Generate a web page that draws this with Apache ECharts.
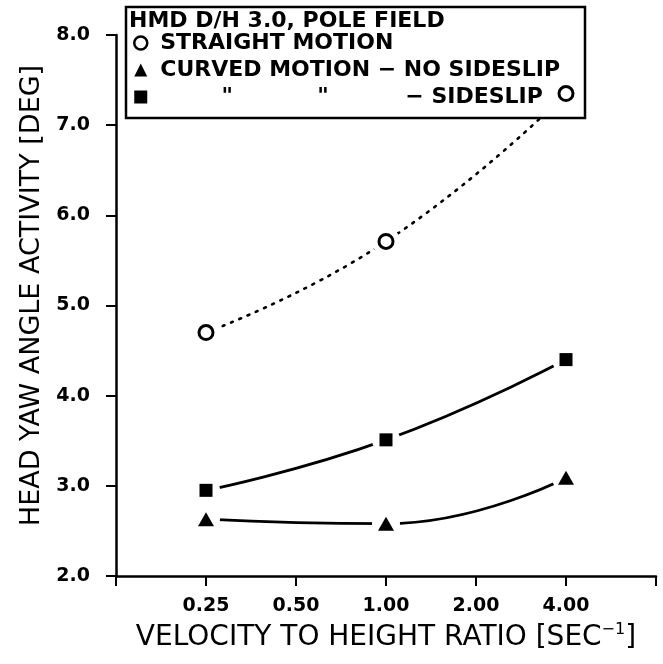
<!DOCTYPE html>
<html>
<head>
<meta charset="utf-8">
<script src="https://cdn.jsdelivr.net/npm/echarts@6/dist/echarts.min.js"></script>
<style>
html,body{margin:0;padding:0;background:#fff;}
#main{width:663px;height:664px;}
</style>
</head>
<body>
<div id="main"></div>
<script>
// velocity to height ratio [sec^-1], plotted on a log2 axis
let xValues = [0.25, 1.00, 4.00];
let xTickLabels = ["0.25", "0.50", "1.00", "2.00", "4.00"];
let straightMotion = [4.70, 5.71, 7.35];
let curvedNoSideslip = [2.63, 2.58, 3.09];
let curvedSideslip = [2.95, 3.51, 4.40];
let seriesNames = [
	"STRAIGHT MOTION",
	"CURVED MOTION \u2212 NO SIDESLIP",
	'        "           "          \u2212 SIDESLIP'
];
let legendTitle = "HMD D/H 3.0, POLE FIELD";

let font = "DejaVu Sans";

function pairs(ys) {
	return xValues.map(function(x, i) {
		return [x, ys[i]];
	});
}

// fitted curve, white discs under the markers leave the gap seen on the plot
function fitLine(id, ys, dotted) {
	return {
		name: id,
		type: "line",
		data: pairs(ys),
		smooth: 0.5,
		z: 1,
		silent: true,
		symbol: "circle",
		symbolSize: 28,
		showSymbol: true,
		itemStyle: { color: "#fff" },
		lineStyle: {
			color: "#000",
			width: dotted ? 2.6 : 2.8,
			type: dotted ? [2, 7] : "solid",
			cap: "round"
		}
	};
}

function markers(name, ys, symbol, size, style) {
	style.opacity = 1;
	return {
		name: name,
		type: "scatter",
		data: pairs(ys),
		symbol: symbol,
		symbolSize: size,
		itemStyle: style,
		z: 5
	};
}

let myChart = echarts.init(document.getElementById("main"), null, { renderer: "canvas" });
let option = {
	animation: false,
	backgroundColor: "#fff",
	grid: { left: 116, right: 7, top: 35, bottom: 88 },
	title: {
		text: legendTitle,
		left: 129,
		top: 10,
		padding: 0,
		z: 6,
		textStyle: { fontFamily: font, fontSize: 22, fontWeight: "bold", color: "#000" }
	},
	legend: {
		data: seriesNames,
		orient: "vertical",
		left: 133,
		top: 32,
		padding: 0,
		itemGap: 5,
		itemWidth: 13,
		itemHeight: 13,
		selectedMode: false,
		z: 6,
		itemStyle: { borderWidth: 2.5, opacity: 1 },
		textStyle: { fontFamily: font, fontSize: 22, fontWeight: "bold", lineHeight: 21, color: "#000", padding: [0, 0, 0, 8] }
	},
	graphic: [{
		type: "rect",
		z: 3,
		shape: { x: 126, y: 7, width: 459, height: 111 },
		style: { fill: "#fff", stroke: "#000", lineWidth: 2.5 }
	}],
	xAxis: {
		type: "log",
		logBase: 2,
		min: 0.125,
		max: 8,
		splitLine: { show: false },
		minorTick: { show: false },
		axisLine: { onZero: false, lineStyle: { color: "#000", width: 2.5 } },
		axisTick: { show: true, length: 10, lineStyle: { color: "#000", width: 2 } },
		axisLabel: {
			color: "#000",
			fontFamily: font,
			fontSize: 19,
			fontWeight: "bold",
			margin: 21,
			formatter: function(v) {
				let s = xTickLabels.find(function(t) {
					return Math.abs(parseFloat(t) - v) < 1e-6;
				});
				return s || "";
			}
		},
		name: "{n|VELOCITY TO HEIGHT RATIO [SEC}{s|\u22121}{n|]}",
		nameLocation: "middle",
		nameGap: 46,
		nameTextStyle: {
			rich: {
				n: { fontFamily: font, fontSize: 28, lineHeight: 32, color: "#000" },
				s: { fontFamily: font, fontSize: 16, lineHeight: 16, verticalAlign: "top", color: "#000" }
			}
		}
	},
	yAxis: {
		type: "value",
		min: 2,
		max: 8,
		interval: 1,
		splitLine: { show: false },
		axisLine: { show: true, onZero: false, lineStyle: { color: "#000", width: 2.5 } },
		axisTick: { show: true, length: 10, lineStyle: { color: "#000", width: 2 } },
		axisLabel: {
			color: "#000",
			fontFamily: font,
			fontSize: 19,
			fontWeight: "bold",
			margin: 26,
			formatter: function(v) {
				return v.toFixed(1);
			}
		},
		name: "HEAD YAW ANGLE ACTIVITY [DEG]",
		nameLocation: "middle",
		nameRotate: 90,
		nameGap: 67,
		nameTextStyle: { fontFamily: font, fontSize: 27, color: "#000", padding: [0, 0, 0, 20] }
	},
	series: [
		fitLine("fit straight", straightMotion, true),
		fitLine("fit no sideslip", curvedNoSideslip, false),
		fitLine("fit sideslip", curvedSideslip, false),
		markers(seriesNames[0], straightMotion, "circle", 14, { color: "#fff", borderColor: "#000", borderWidth: 3 }),
		markers(seriesNames[1], curvedNoSideslip, "triangle", [16, 14], { color: "#000" }),
		markers(seriesNames[2], curvedSideslip, "rect", 13, { color: "#000" })
	]
};
myChart.setOption(option);
</script>
</body>
</html>
